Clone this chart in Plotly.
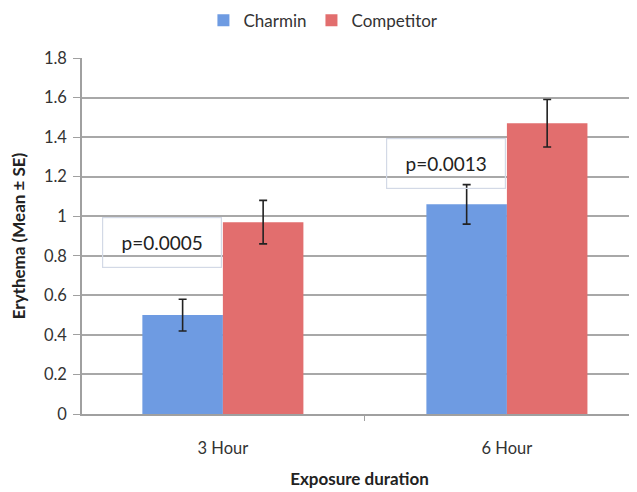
import plotly.graph_objects as go

categories = ["3 Hour", "6 Hour"]
charmin = [0.50, 1.06]
charmin_se = [0.08, 0.10]
competitor = [0.97, 1.47]
competitor_se = [0.11, 0.12]
p_labels = ["p=0.0005", "p=0.0013"]
p_y = [0.865, 1.265]
y_ticks = [0, 0.2, 0.4, 0.6, 0.8, 1, 1.2, 1.4, 1.6, 1.8]

FONT = "Lato, 'Open Sans', sans-serif"

fig = go.Figure()
fig.add_trace(go.Bar(
    name="Charmin", x=categories, y=charmin,
    marker=dict(color="#6e9be2", line=dict(width=0)),
    error_y=dict(type="data", array=charmin_se, color="#222", thickness=1.6, width=4),
))
fig.add_trace(go.Bar(
    name="Competitor", x=categories, y=competitor,
    marker=dict(color="#e26e6e", line=dict(width=0)),
    error_y=dict(type="data", array=competitor_se, color="#222", thickness=1.6, width=4),
))

for i, (txt, yv) in enumerate(zip(p_labels, p_y)):
    fig.add_annotation(
        x=i - 0.213, y=yv, xref="x", yref="y", text=txt, showarrow=False,
        font=dict(family=FONT, size=19, color="#222"),
        bordercolor="#d3d9e6", borderwidth=1.2, bgcolor="rgba(255,255,255,0)",
        width=116, height=47,
    )

fig.update_layout(
    width=637, height=492,
    margin=dict(l=74, r=8, t=50, b=86, autoexpand=False),
    paper_bgcolor="white", plot_bgcolor="white",
    barmode="group", bargap=0.433, bargroupgap=0,
    font=dict(family=FONT, size=16, color="#333"),
    showlegend=True,
    legend=dict(orientation="h", x=0.435, xanchor="center", y=1.105, yref="paper", yanchor="middle",
                font=dict(family=FONT, size=17, color="#333"), itemwidth=30, tracegroupgap=0),
)
fig.update_xaxes(
    type="category", range=[-0.496, 1.458],
    showline=True, linecolor="#a0a0a0", linewidth=1.5,
    ticks="outside", tickson="boundaries", ticklen=5, tickcolor="#a0a0a0",
    ticklabelstandoff=18,
    tickfont=dict(family=FONT, size=16.5, color="#333"),
    title=dict(text="<b>Exposure duration</b>", font=dict(family=FONT, size=17, color="#222"), standoff=17),
    showgrid=False,
)
fig.update_yaxes(
    range=[0, 1.8], tickvals=y_ticks, ticktext=[f"{v:g}" for v in y_ticks],
    showline=True, linecolor="#a0a0a0", linewidth=1.5,
    ticks="outside", ticklen=7, tickcolor="#a0a0a0",
    ticklabelstandoff=3,
    showgrid=True, gridcolor="#a8a8a8", gridwidth=1.5,
    tickfont=dict(family=FONT, size=16.5, color="#333"),
    title=dict(text="<b>Erythema (Mean ± SE)</b>", font=dict(family=FONT, size=17, color="#222"), standoff=24),
    zeroline=False,
)

fig.write_html("out.html")
